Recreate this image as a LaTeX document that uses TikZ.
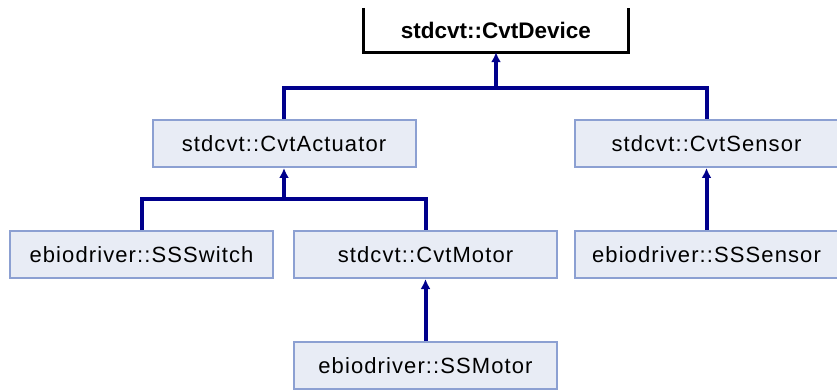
\documentclass[tikz,border=0pt]{standalone}
\usepackage{xcolor}
\usepackage{fontspec}
\setmainfont{Liberation Sans}
\newfontfamily\clsfont[LetterSpace=5]{Liberation Sans}
\usepackage{tikz}
\usetikzlibrary{arrows.meta}
\usetikzlibrary{positioning}
\definecolor{boxfill}{RGB}{232,236,245}
\definecolor{boxline}{RGB}{140,160,210}
\definecolor{linkblue}{RGB}{0,0,140}
\tikzset{
    clsnode/.style = {rectangle, draw=boxline, fill=boxfill, line width=2pt, inner sep=0pt, minimum width=263pt, minimum height=47pt, font=\clsfont\fontsize{22}{26}\selectfont},
    topnode/.style = {rectangle, inner sep=0pt, minimum width=264pt, minimum height=44pt, font=\bfseries\fontsize{22.5}{26}\selectfont},
    edgel/.style = {-, line width=4pt, linkblue},
    edgea/.style = {-{Latex[length=10pt,width=10pt]}, line width=4pt, linkblue}
}
\begin{document}
\begin{tikzpicture}[x=1pt, y=-1pt]
\useasboundingbox[fill=white] (0,0) rectangle (837,390);
\node[topnode] at (496,30) (dev) {stdcvt::CvtDevice};
\node[clsnode] at (284,143.5) (act) {stdcvt::CvtActuator};
\node[clsnode] at (706.5,143.5) (sen) {stdcvt::CvtSensor};
\node[clsnode] at (141.5,254.5) (sw) {ebiodriver::SSSwitch};
\node[clsnode] at (425.5,254.5) (mot) {stdcvt::CvtMotor};
\node[clsnode] at (706.5,254.5) (ssen) {ebiodriver::SSSensor};
\node[clsnode] at (425.5,365.5) (smot) {ebiodriver::SSMotor};
%
\draw[line width=3pt] (dev.north west) -- (dev.south west) -- (dev.south east) -- (dev.north east);
%
\coordinate (j1) at (dev.south |- 0,88);
\coordinate (j2) at (act.south |- 0,199);
\draw[edgel] (act.north) |- (j1) -| (sen.north);
\draw[edgea] (j1) -- (dev.south);
%
\draw[edgel] (sw.north) |- (j2) -| (mot.north);
\draw[edgea] (j2) -- (act.south);
%
\draw[edgea] (smot) -- (mot);
\draw[edgea] (ssen) -- (sen);
\end{tikzpicture}
\end{document}
